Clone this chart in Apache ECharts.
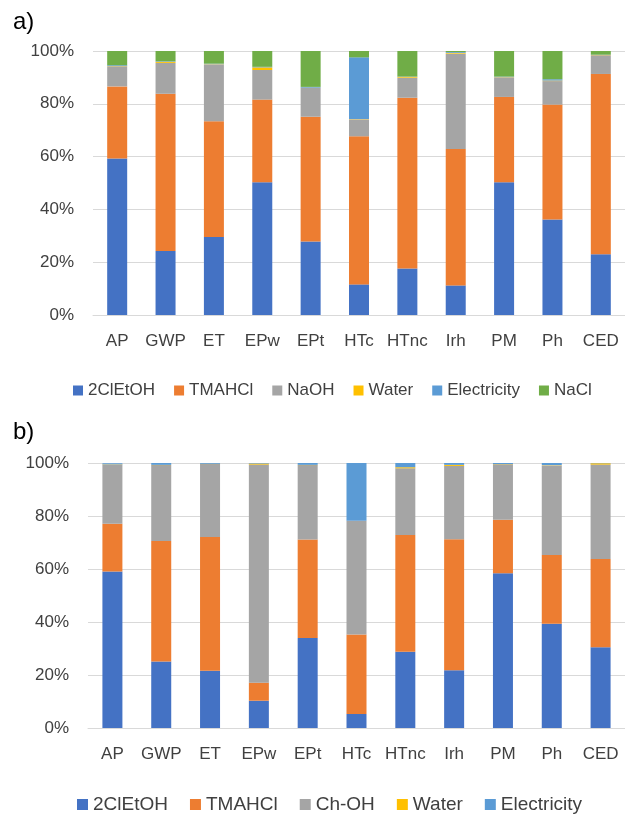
<!DOCTYPE html>
<html>
<head>
<meta charset="utf-8">
<script src="https://cdn.jsdelivr.net/npm/echarts@6/dist/echarts.min.js"></script>
<style>
  html, body { margin: 0; padding: 0; background: #fff; }
  #chart { width: 625px; height: 814px; }
</style>
</head>
<body>
<div id="chart"></div>
<script>
// Impact categories shared by both panels
const categories = ['AP', 'GWP', 'ET', 'EPw', 'EPt', 'HTc', 'HTnc', 'Irh', 'PM', 'Ph', 'CED'];

// Panel a) contributions (%)
const a_2ClEtOH     = [59.3, 24.2, 29.5, 50.3, 27.8, 11.6, 17.6, 11.2, 50.3, 36.2, 23.0];
const a_TMAHCl      = [27.3, 59.6, 43.9, 31.3, 47.3, 56.1, 64.7, 51.7, 32.3, 43.5, 68.3];
const a_NaOH        = [7.6, 11.7, 21.5, 11.2, 10.9, 6.4, 7.6, 36.1, 7.4, 8.9, 7.1];
const a_Water       = [0.1, 0.4, 0.1, 1.0, 0.1, 0.1, 0.3, 0.3, 0.1, 0.2, 0.1];
const a_Electricity = [0.3, 0.2, 0.2, 0.2, 0.3, 23.4, 0.1, 0.3, 0.2, 0.5, 0.1];
const a_NaCl        = [5.4, 3.9, 4.8, 6.0, 13.6, 2.4, 9.7, 0.4, 9.7, 10.7, 1.4];

// Panel b) contributions (%)
const b_2ClEtOH     = [59.1, 25.1, 21.6, 10.3, 34.0, 5.3, 28.8, 21.8, 58.4, 39.3, 30.5];
const b_TMAHCl      = [18.0, 45.5, 50.5, 6.8, 37.1, 30.0, 44.0, 49.4, 20.2, 26.0, 33.3];
const b_ChOH        = [22.3, 28.6, 27.5, 82.3, 28.1, 42.9, 25.2, 27.7, 20.9, 33.8, 35.6];
const b_Water       = [0.1, 0.1, 0.1, 0.4, 0.1, 0.0, 0.4, 0.4, 0.1, 0.1, 0.5];
const b_Electricity = [0.4, 0.7, 0.3, 0.2, 0.7, 21.8, 1.6, 0.7, 0.4, 0.8, 0.1];

const yTicks = [0, 20, 40, 60, 80, 100];

const colors = {
  '2ClEtOH': '#4472C4',
  'TMAHCl': '#ED7D31',
  'NaOH': '#A5A5A5',
  'Ch-OH': '#A5A5A5',
  'Water': '#FFC000',
  'Electricity': '#5B9BD5',
  'NaCl': '#70AD47'
};

const FONT = 'Liberation Sans, Arial, sans-serif';
const textColor = '#404040';

function bar(name, data, idx, stack, width) {
  return {
    name: name,
    type: 'bar',
    stack: stack,
    xAxisIndex: idx,
    yAxisIndex: idx,
    barWidth: width,
    data: data,
    itemStyle: { color: colors[name] }
  };
}

function xAxis(idx) {
  return {
    type: 'category',
    gridIndex: idx,
    data: categories,
    axisTick: { show: false },
    axisLine: { lineStyle: { color: '#d9d9d9', width: 1 } },
    axisLabel: { color: textColor, fontSize: 17, fontFamily: FONT, margin: 18, interval: 0 }
  };
}

function yAxis(idx) {
  return {
    type: 'value',
    gridIndex: idx,
    min: yTicks[0],
    max: yTicks[yTicks.length - 1],
    interval: 20,
    axisLine: { show: false },
    axisTick: { show: false },
    splitLine: { lineStyle: { color: '#d9d9d9', width: 1 } },
    axisLabel: { color: textColor, fontSize: 17, fontFamily: FONT, margin: 19, formatter: '{value}%' }
  };
}

const chart = echarts.init(document.getElementById('chart'), null, { renderer: 'canvas' });

chart.setOption({
  animation: false,
  backgroundColor: '#fff',
  title: [
    { text: 'a)', left: 8, top: 5, textStyle: { fontSize: 24, fontWeight: 'normal', color: '#000', fontFamily: FONT } },
    { text: 'b)', left: 8, top: 415, textStyle: { fontSize: 24, fontWeight: 'normal', color: '#000', fontFamily: FONT } }
  ],
  grid: [
    { left: 93, top: 51, width: 535, height: 264 },
    { left: 88, top: 463, width: 544, height: 265 }
  ],
  legend: [
    {
      data: ['2ClEtOH', 'TMAHCl', 'NaOH', 'Water', 'Electricity', 'NaCl'],
      left: 68, top: 377,
      icon: 'rect', itemWidth: 10, itemHeight: 10, itemGap: 19,
      textStyle: { color: textColor, fontSize: 17, fontFamily: FONT }
    },
    {
      data: ['2ClEtOH', 'TMAHCl', 'Ch-OH', 'Water', 'Electricity'],
      left: 72, top: 790,
      icon: 'rect', itemWidth: 11, itemHeight: 11, itemGap: 22,
      textStyle: { color: textColor, fontSize: 19, fontFamily: FONT }
    }
  ],
  xAxis: [xAxis(0), xAxis(1)],
  yAxis: [yAxis(0), yAxis(1)],
  series: [
    bar('2ClEtOH', a_2ClEtOH, 0, 'a', 20),
    bar('TMAHCl', a_TMAHCl, 0, 'a', 20),
    bar('NaOH', a_NaOH, 0, 'a', 20),
    bar('Water', a_Water, 0, 'a', 20),
    bar('Electricity', a_Electricity, 0, 'a', 20),
    bar('NaCl', a_NaCl, 0, 'a', 20),
    bar('2ClEtOH', b_2ClEtOH, 1, 'b', 20),
    bar('TMAHCl', b_TMAHCl, 1, 'b', 20),
    bar('Ch-OH', b_ChOH, 1, 'b', 20),
    bar('Water', b_Water, 1, 'b', 20),
    bar('Electricity', b_Electricity, 1, 'b', 20)
  ]
});
</script>
</body>
</html>
